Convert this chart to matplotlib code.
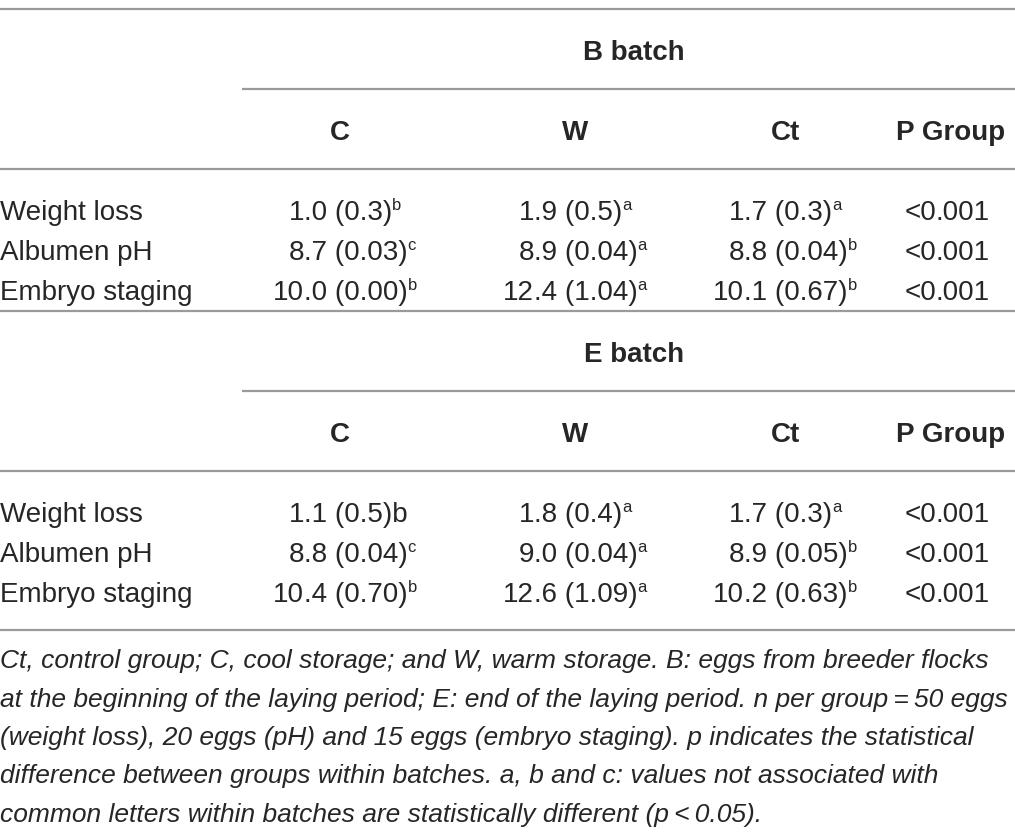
import matplotlib.pyplot as plt

plt.rcParams['font.family'] = ['Liberation Sans', 'DejaVu Sans']

# table content ("^x" marks a superscript letter)
batches = ["B batch", "E batch"]
groups = ["C", "W", "Ct", "P Group"]
rows = ["Weight loss", "Albumen pH", "Embryo staging"]

b_c = ["1.0 (0.3)^b", "8.7 (0.03)^c", "10.0 (0.00)^b"]
b_w = ["1.9 (0.5)^a", "8.9 (0.04)^a", "12.4 (1.04)^a"]
b_ct = ["1.7 (0.3)^a", "8.8 (0.04)^b", "10.1 (0.67)^b"]
b_p = ["<0.001", "<0.001", "<0.001"]

e_c = ["1.1 (0.5)b", "8.8 (0.04)^c", "10.4 (0.70)^b"]
e_w = ["1.8 (0.4)^a", "9.0 (0.04)^a", "12.6 (1.09)^a"]
e_ct = ["1.7 (0.3)^a", "8.9 (0.05)^b", "10.2 (0.63)^b"]
e_p = ["<0.001", "<0.001", "<0.001"]

caption = [
    "Ct, control group; C, cool storage; and W, warm storage. B: eggs from breeder flocks",
    "at the beginning of the laying period; E: end of the laying period. n per group\u2009=\u200950 eggs",
    "(weight loss), 20 eggs (pH) and 15 eggs (embryo staging). p indicates the statistical",
    "difference between groups within batches. a, b and c: values not associated with",
    "common letters within batches are statistically different (p\u2009<\u20090.05).",
]

W, H = 1015, 835
fig = plt.figure(figsize=(W / 100, H / 100), dpi=100)
ax = fig.add_axes([0, 0, 1, 1])
ax.set_xlim(0, W)
ax.set_ylim(H, 0)
ax.axis('off')

ink = '#262626'
rule = '#9a9a9a'
fs = 20

head_x = [340, 575, 786, 951]     # header centres
dec_x = [304, 534, 744, 936]      # decimal point positions of value columns
batch_x = 634

sups = []   # (text artist, letter, baseline y)


def hline(y, x0=0):
    ax.plot([x0, W], [y, y], color=rule, lw=1.6, solid_capstyle='butt')


def cell(x, y, s):
    body, _, sup = s.partition('^')
    left, right = body.split('.', 1)
    ax.text(x, y, left, ha='right', va='baseline', fontsize=fs, color=ink)
    t = ax.text(x, y, '.' + right, ha='left', va='baseline', fontsize=fs, color=ink)
    if sup:
        sups.append((t, sup, y))


def block(top, name, cols):
    hline(top)
    ax.text(batch_x, top + 51, name, ha='center', va='baseline', fontsize=fs,
            fontweight='bold', color=ink)
    hline(top + 80, 242)
    for x, g in zip(head_x, groups):
        ax.text(x, top + 131, g, ha='center', va='baseline', fontsize=fs,
                fontweight='bold', color=ink)
    hline(top + 160)
    for i, r in enumerate(rows):
        y = top + 211 + 40 * i
        ax.text(0, y, r, ha='left', va='baseline', fontsize=fs, color=ink)
        for x, col in zip(dec_x, cols):
            cell(x, y, col[i])


block(9, batches[0], [b_c, b_w, b_ct, b_p])
block(311, batches[1], [e_c, e_w, e_ct, e_p])
hline(630)

cap = []
for i, line in enumerate(caption):
    cap.append(ax.text(0, 668 + 38.5 * i, line, ha='left', va='baseline',
                       fontsize=17, style='italic', color=ink))

fig.canvas.draw()
rend = fig.canvas.get_renderer()

# superscript letters sit just after the closing bracket
for t, letter, y in sups:
    x1 = t.get_window_extent(rend).x1
    ax.text(x1, y - 10, letter, ha='left', va='baseline', fontsize=12, color=ink)

# size the caption so the first line spans the same width as the reference
wpx = cap[0].get_window_extent(rend).width
for t in cap:
    t.set_fontsize(17 * 993 / wpx)

fig.savefig('out.png', dpi=100)
